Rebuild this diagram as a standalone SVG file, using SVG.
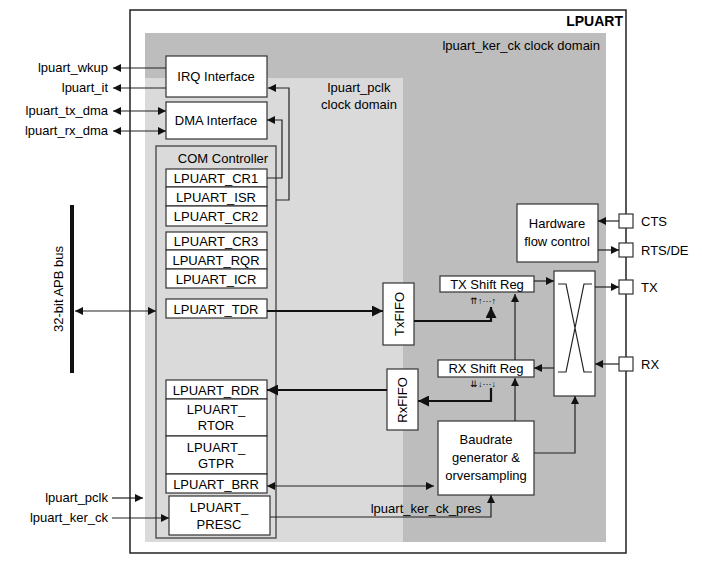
<svg xmlns="http://www.w3.org/2000/svg" width="702" height="562" viewBox="0 0 702 562">
<defs>
<style>
text{font-family:"Liberation Sans",Arial,sans-serif;font-size:13px;fill:#000}
.b{fill:#fff;stroke:#333;stroke-width:1.2}
.l{fill:none;stroke:#222;stroke-width:1.2}
.t{fill:none;stroke:#111;stroke-width:2.2}
.c{text-anchor:middle}
</style>
<marker id="a" viewBox="0 0 10 10" refX="10" refY="5" markerWidth="8" markerHeight="8" markerUnits="userSpaceOnUse" orient="auto-start-reverse"><path d="M0,0L10,5L0,10z" fill="#111"/></marker>
<marker id="A" viewBox="0 0 10 10" refX="10" refY="5" markerWidth="11" markerHeight="11" markerUnits="userSpaceOnUse" orient="auto-start-reverse"><path d="M0,0L10,5L0,10z" fill="#111"/></marker>
</defs>
<rect x="0" y="0" width="702" height="562" fill="#fff"/>
<g id="lpuart"><rect x="130" y="10" width="496" height="543" fill="#fff" stroke="#222" stroke-width="1.5"/><text x="623" y="26" text-anchor="end" font-weight="bold" style="font-size:14px">LPUART</text></g>
<g id="kerdomain"><rect x="145" y="33" width="461" height="509" fill="#bdbdbd"/><text x="600" y="50" text-anchor="end">lpuart_ker_ck  clock domain</text></g>
<g id="pclkdomain"><rect x="145" y="78" width="258" height="464" fill="#dadada"/><text x="359" y="92" class="c">lpuart_pclk</text><text x="359" y="109" class="c">clock domain</text></g>
<g id="irq"><rect class="b" x="166" y="56" width="101" height="41"/><text x="216" y="81" class="c">IRQ Interface</text></g>
<g id="dma"><rect class="b" x="166" y="102" width="101" height="37"/><text x="216" y="125" class="c">DMA Interface</text></g>
<g id="com"><rect x="156" y="146" width="120" height="392" fill="none" stroke="#555" stroke-width="1.5"/><text x="223" y="163" class="c">COM Controller</text>
<rect class="b" x="166" y="169" width="101" height="18"/><text x="216" y="183" class="c">LPUART_CR1</text>
<rect class="b" x="166" y="187" width="101" height="19"/><text x="216" y="202" class="c">LPUART_ISR</text>
<rect class="b" x="166" y="206" width="101" height="20"/><text x="216" y="221" class="c">LPUART_CR2</text>
<rect class="b" x="166" y="232" width="101" height="18"/><text x="216" y="246" class="c">LPUART_CR3</text>
<rect class="b" x="166" y="250" width="101" height="19"/><text x="216" y="265" class="c">LPUART_RQR</text>
<rect class="b" x="166" y="269" width="101" height="19"/><text x="216" y="284" class="c">LPUART_ICR</text>
<rect class="b" x="166" y="299" width="101" height="19"/><text x="216" y="314" class="c">LPUART_TDR</text>
<rect class="b" x="166" y="380" width="101" height="19"/><text x="216" y="395" class="c">LPUART_RDR</text>
<rect class="b" x="166" y="399" width="101" height="37"/><text x="216" y="414" class="c">LPUART_</text><text x="216" y="430" class="c">RTOR</text>
<rect class="b" x="166" y="436" width="101" height="38"/><text x="216" y="452" class="c">LPUART_</text><text x="216" y="468" class="c">GTPR</text>
<rect class="b" x="166" y="474" width="101" height="19"/><text x="216" y="489" class="c">LPUART_BRR</text>
<rect class="b" x="169" y="496" width="101" height="39"/><text x="219" y="512" class="c">LPUART_</text><text x="219" y="529" class="c">PRESC</text></g>
<g id="apb"><line x1="72" y1="205" x2="72" y2="373" stroke="#111" stroke-width="4"/><text transform="translate(63,289) rotate(-90)" class="c">32-bit APB bus</text></g>
<g id="txfifo"><rect class="b" x="383" y="283" width="31" height="62"/><text transform="translate(404,314) rotate(-90)" class="c">TxFIFO</text></g>
<g id="rxfifo"><rect class="b" x="387" y="369" width="31" height="61"/><text transform="translate(407,400) rotate(-90)" class="c">RxFIFO</text></g>
<g id="txshift"><rect class="b" x="440" y="276" width="94" height="16"/><text x="487" y="289" class="c">TX Shift Reg</text><text x="470" y="304" style="font-size:9px">⇈↑···↑</text></g>
<g id="rxshift"><rect class="b" x="438" y="360" width="96" height="17"/><text x="486" y="373" class="c">RX Shift Reg</text><text x="470" y="387" style="font-size:9px">⇊↓···↓</text></g>
<g id="baud"><rect class="b" x="438" y="421" width="96" height="74"/><text x="486" y="444" class="c">Baudrate</text><text x="486" y="462" class="c">generator &amp;</text><text x="486" y="480" class="c">orversampling</text></g>
<g id="mux"><rect class="b" x="554" y="271" width="41" height="125"/><path class="l" d="M558,284H566L584,372H592M558,372H566L584,284H592"/></g>
<g id="hwfc"><rect class="b" x="517" y="204" width="81" height="58"/><text x="557" y="228" class="c">Hardware</text><text x="557" y="246" class="c">flow control</text></g>
<g id="pins"><rect class="b" x="619" y="214" width="14" height="14"/><text x="641" y="226">CTS</text>
<rect class="b" x="619" y="243" width="14" height="14"/><text x="641" y="255">RTS/DE</text>
<rect class="b" x="619" y="280" width="14" height="14"/><text x="641" y="292">TX</text>
<rect class="b" x="619" y="357" width="14" height="14"/><text x="641" y="369">RX</text></g>
<g id="extlabels"><text x="108" y="72" text-anchor="end">lpuart_wkup</text><text x="108" y="92" text-anchor="end">lpuart_it</text><text x="108" y="115" text-anchor="end">lpuart_tx_dma</text><text x="108" y="135" text-anchor="end">lpuart_rx_dma</text><text x="108" y="502" text-anchor="end">lpuart_pclk</text><text x="108" y="522" text-anchor="end">lpuart_ker_ck</text><text x="426" y="513" class="c">lpuart_ker_ck_pres</text></g>
<g id="connectors">
<path class="l" d="M166,68H113" marker-end="url(#a)"/>
<path class="l" d="M166,88H113" marker-end="url(#a)"/>
<path class="l" d="M113,111H166" marker-start="url(#a)" marker-end="url(#a)"/>
<path class="l" d="M113,131H166" marker-start="url(#a)" marker-end="url(#a)"/>
<path class="l" d="M267,178H282V120H267" marker-end="url(#a)"/>
<path class="l" d="M276,200H289V88H268" marker-end="url(#a)"/>
<path class="l" d="M75,311H156" marker-start="url(#a)" marker-end="url(#a)"/>
<path class="t" d="M267,311H383" marker-end="url(#A)"/>
<path class="t" d="M414,321H491V307" marker-end="url(#A)"/>
<path class="t" d="M491,388V401H418" marker-end="url(#A)"/>
<path class="t" d="M387,390H267" marker-end="url(#A)"/>
<path class="l" d="M515,421V378" marker-end="url(#a)"/>
<path class="l" d="M515,360V294" marker-end="url(#a)"/>
<path class="l" d="M534,453H575V396" marker-end="url(#a)"/>
<path class="l" d="M534,281H554" marker-end="url(#a)"/>
<path class="l" d="M554,368H534" marker-end="url(#a)"/>
<path class="l" d="M595,287H619" marker-end="url(#a)"/>
<path class="l" d="M619,364H595" marker-end="url(#a)"/>
<path class="l" d="M619,221H598" marker-end="url(#a)"/>
<path class="l" d="M598,250H619" marker-end="url(#a)"/>
<path class="l" d="M267,486H434" marker-start="url(#a)" marker-end="url(#a)"/>
<path class="l" d="M270,517H491V495" marker-end="url(#a)"/>
<path class="l" d="M112,498H143" marker-end="url(#a)"/>
<path class="l" d="M112,518H169" marker-end="url(#a)"/>
</g>
</svg>
